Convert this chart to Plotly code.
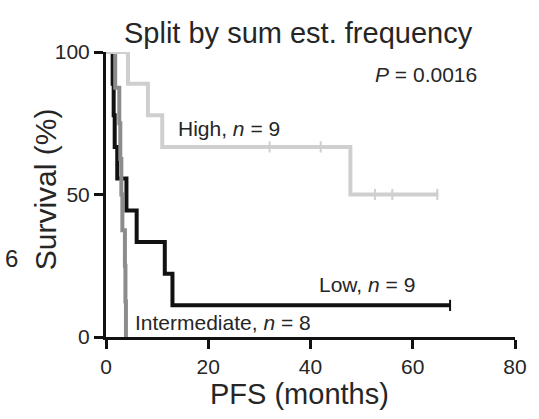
import plotly.graph_objects as go

# Kaplan-Meier step data (months, survival %)
high_t = [0, 4.3, 8.2, 11.0, 47.8, 65.0]
high_s = [100, 88.9, 77.8, 66.7, 50.0, 50.0]
high_cens_t = [32.0, 42.0, 52.6, 56.0, 64.8]
high_cens_s = [66.7, 66.7, 50.0, 50.0, 50.0]

low_t = [0, 1.3, 1.5, 1.7, 2.2, 4.0, 6.0, 11.5, 13.0, 67.3]
low_s = [100, 88.9, 77.8, 66.7, 55.6, 44.4, 33.3, 22.2, 11.1, 11.1]
low_cens_t = [67.3]
low_cens_s = [11.1]

int_t = [0, 1.8, 2.6, 2.8, 3.0, 3.2, 3.7, 3.8, 3.9]
int_s = [100, 87.5, 75.0, 62.5, 50.0, 37.5, 25.0, 12.5, 0.0]

x_ticks = [0, 20, 40, 60, 80]
y_ticks = [0, 50, 100]

FONT = "Liberation Sans, Arial, sans-serif"
TXT = "#262626"
BLACK = "#111111"
LIGHT = "#cfcfcf"
MID = "#8c8c8c"

fig = go.Figure()

fig.add_trace(go.Scatter(x=low_t, y=low_s, mode="lines", line=dict(color=BLACK, width=4, shape="hv"), showlegend=False))
fig.add_trace(go.Scatter(x=low_cens_t, y=low_cens_s, mode="markers",
                         marker=dict(symbol="line-ns-open", size=8, color=BLACK, line=dict(color=BLACK, width=2)), showlegend=False))
fig.add_trace(go.Scatter(x=int_t, y=int_s, mode="lines", line=dict(color=MID, width=4, shape="hv"), showlegend=False))
fig.add_trace(go.Scatter(x=high_t, y=high_s, mode="lines", line=dict(color=LIGHT, width=4, shape="hv"), showlegend=False))
fig.add_trace(go.Scatter(x=high_cens_t, y=high_cens_s, mode="markers",
                         marker=dict(symbol="line-ns-open", size=8, color=LIGHT, line=dict(color=LIGHT, width=2)), showlegend=False))

fig.update_layout(
    width=539, height=419,
    margin=dict(l=106, r=24, t=52, b=82),
    paper_bgcolor="white", plot_bgcolor="white",
    font=dict(family=FONT, color=TXT),
    title=dict(text="Split by sum est. frequency", x=0.553, xanchor="center", y=0.921, yanchor="middle",
               font=dict(size=29, color=TXT)),
    xaxis=dict(range=[0, 80], tickvals=x_ticks, showline=True, linecolor=BLACK, linewidth=3,
               ticks="outside", ticklen=9, tickwidth=3, tickcolor=BLACK, showgrid=False, zeroline=False,
               tickfont=dict(size=21, color=TXT)),
    yaxis=dict(range=[0, 100], tickvals=y_ticks, showline=True, linecolor=BLACK, linewidth=3,
               ticks="outside", ticklen=9, tickwidth=3, tickcolor=BLACK, showgrid=False, zeroline=False,
               tickfont=dict(size=21, color=TXT)),
    annotations=[
        dict(text="PFS (months)", x=0.472, y=-0.2, xref="paper", yref="paper", showarrow=False,
             yanchor="middle", font=dict(size=29, color=TXT)),
        dict(text="Survival (%)", x=-0.148, y=0.52, xref="paper", yref="paper", showarrow=False,
             textangle=-90, xanchor="center", yanchor="middle", font=dict(size=30, color=TXT)),
        dict(text="<i>P</i> = 0.0016", x=62.6, y=92.0, xref="x", yref="y", showarrow=False, font=dict(size=21, color=TXT)),
        dict(text="High, <i>n</i> = 9", x=13.7, y=73, xref="x", yref="y", showarrow=False, xanchor="left", font=dict(size=21, color=TXT)),
        dict(text="Low, <i>n</i> = 9", x=41.2, y=18.5, xref="x", yref="y", showarrow=False, xanchor="left", font=dict(size=21, color=TXT)),
        dict(text="Intermediate, <i>n</i> = 8", x=5.2, y=5.0, xref="x", yref="y", showarrow=False, xanchor="left", font=dict(size=21, color=TXT)),
        dict(text="6", x=-0.23, y=0.275, xref="paper", yref="paper", showarrow=False,
             xanchor="center", yanchor="middle", font=dict(size=24, color=TXT)),
    ],
)

fig.write_html("out.html")
